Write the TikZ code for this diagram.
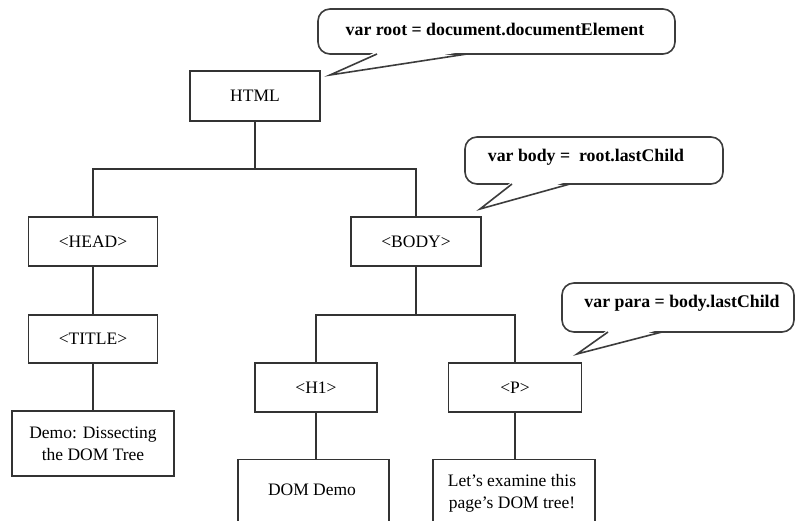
\documentclass[tikz,border=0pt]{standalone}
\usepackage{fontspec}
\setmainfont{Liberation Serif}
\definecolor{linec}{HTML}{333333}
\definecolor{callc}{HTML}{3C3C3C}
\newcommand\treefont{\fontsize{17.5}{22}\selectfont}
\newcommand\calfont{\fontsize{17.8}{22}\selectfont\bfseries}
\tikzset{
  box/.style={draw=linec, line width=1.3pt, fill=white, font=\treefont, inner sep=0pt, align=center},
  txt/.style={font=\treefont, inner sep=0pt, align=center},
  link/.style={draw=linec, line width=1.3pt},
  cbody/.style={draw=callc, line width=1.6pt, fill=white, rounded corners=12pt, inner sep=0pt},
  cside/.style={draw=callc, line width=1.6pt, line join=miter},
  ctext/.style={font=\calfont, inner sep=0pt, text=black},
}
\begin{document}
\begin{tikzpicture}[x=1pt, y=-1pt]
\clip (0,0) rectangle (795,521);
\fill[white] (0,0) rectangle (795,521);

% tree nodes
\node[box, minimum width=130, minimum height=50] (html) at (255,96) {HTML};
\node[box, minimum width=129, minimum height=49] (head) at (93,241.5) {<HEAD>};
\node[box, minimum width=130, minimum height=49] (body) at (416,241.5) {<BODY>};
\node[box, minimum width=129, minimum height=48] (title) at (93,339) {<TITLE>};
\node[box, minimum width=162, minimum height=65] (demo) at (93,443.5) {Demo: Dissecting\\the DOM Tree};
\node[box, minimum width=122, minimum height=49] (h1) at (316,387.5) {<H1>};
\node[box, minimum width=133, minimum height=49] (p) at (515,387.5) {<P>};
\node[box, minimum width=151, minimum height=100, anchor=north] (ddbox) at (313.5,459) {};
\node[txt] (ddtext) at (312,490) {DOM Demo};
\node[box, minimum width=162, minimum height=100, anchor=north] (pbox) at (514,459) {};
\node[txt] (ptext) at (512,493) {Let's examine this\\page's DOM tree!};

% connectors
\coordinate (j1) at (255,169);
\coordinate (j2) at (416,315);
\draw[link] (html.south) -- (j1);
\draw[link] (head.north) |- (j1) -| (body.north);
\draw[link] (head.south) -- (title.north);
\draw[link] (title.south) -- (title.south |- demo.north);
\draw[link] (body.south) -- (j2);
\draw[link] (h1.north) |- (j2) -| (p.north);
\draw[link] (h1.south) -- (h1.south |- ddbox.north);
\draw[link] (p.south) -- (p.south |- pbox.north);

% callout 1
\node[cbody, minimum width=357, minimum height=45] (c1) at (496.5,31.5) {};
\coordinate (c1a) at (377,54);
\coordinate (c1b) at (467,54);
\coordinate (c1t) at (330,75);
\fill[white] (377.5,51) -- (466.5,51) -- (c1t) -- cycle;
\draw[cside] (c1a) -- (c1t) -- (c1b);
\node[ctext] (c1txt) at (495,29) {var root = document.documentElement};

% callout 2
\node[cbody, minimum width=258, minimum height=47] (c2) at (594,160.5) {};
\coordinate (c2a) at (512,184);
\coordinate (c2b) at (570,184);
\coordinate (c2t) at (480,209);
\fill[white] (512.5,181) -- (569.5,181) -- (c2t) -- cycle;
\draw[cside] (c2a) -- (c2t) -- (c2b);
\node[ctext] (c2txt) at (586,157) {var body =\ \ root.lastChild};

% callout 3
\node[cbody, minimum width=232, minimum height=49] (c3) at (678,307.5) {};
\coordinate (c3a) at (608,332);
\coordinate (c3b) at (662,332);
\coordinate (c3t) at (577,354);
\fill[white] (608.5,329) -- (661.5,329) -- (c3t) -- cycle;
\draw[cside] (c3a) -- (c3t) -- (c3b);
\node[ctext] (c3txt) at (682,303) {var para = body.lastChild};
\end{tikzpicture}
\end{document}
